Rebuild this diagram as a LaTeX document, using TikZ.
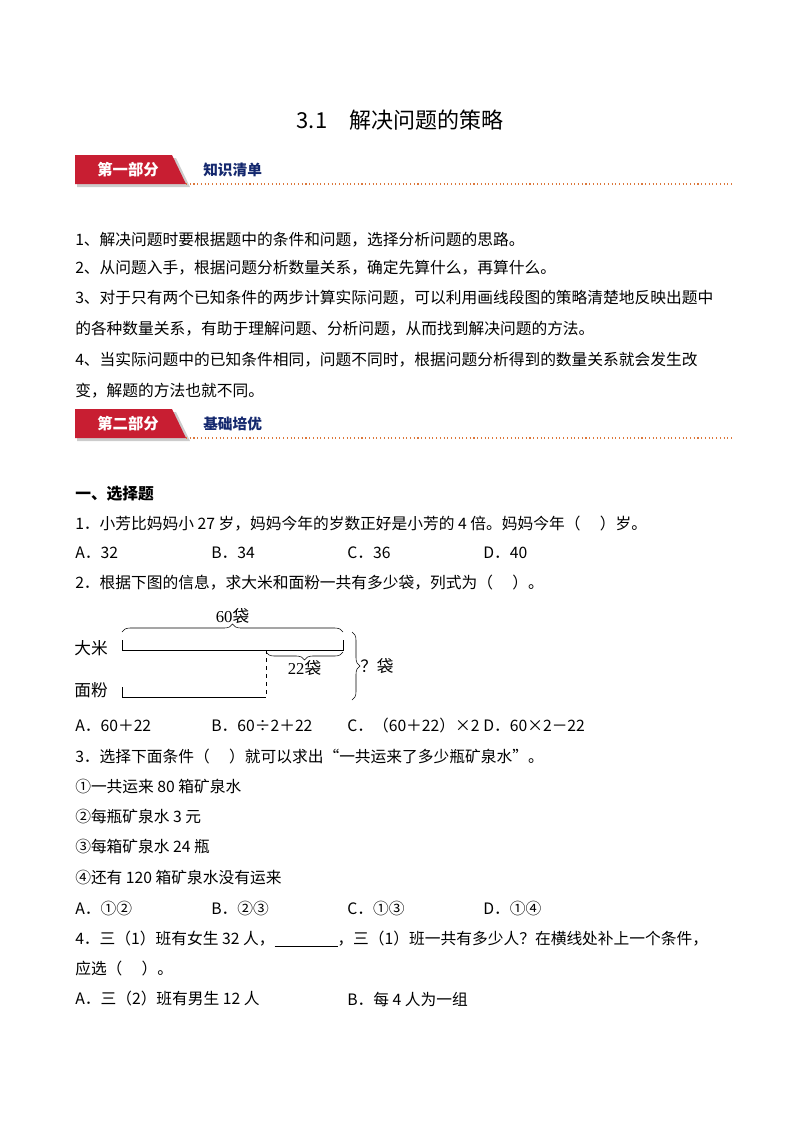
\documentclass[tikz,border=0pt]{standalone}
\usepackage{fontspec}
\setmainfont{Noto Sans CJK SC}
\newfontfamily\dfont{Liberation Serif}
\usetikzlibrary{decorations.pathreplacing}
\definecolor{bannerred}{RGB}{200,30,50}
\definecolor{navy}{RGB}{20,40,110}
\definecolor{dotor}{RGB}{220,120,60}
\begin{document}
\begin{tikzpicture}[x=0.75pt,y=-0.75pt,
  body/.style={anchor=west,inner sep=0pt,font=\fontsize{11.8}{13}\selectfont},
  btxt/.style={anchor=west,inner sep=0pt,font=\fontsize{11.8}{13}\selectfont\bfseries},
  dtext/.style={inner sep=0pt,font=\fontsize{12.5}{14}\selectfont},
  brace/.style={decorate,decoration={brace,amplitude=6pt}}]
\useasboundingbox (0,0) rectangle (800,1132);
\node[inner sep=0pt,font=\fontsize{16.5}{18}\selectfont] (title) at (400,120) {3.1\quad 解决问题的策略};
% banners
\foreach \y/\a/\b/\n in {170/第一部分/知识清单/one,424/第二部分/基础培优/two}{
  \fill[gray!40] (77,\y-12) -- (176,\y-12) -- (190,\y+17) -- (77,\y+17) -- cycle;
  \fill[bannerred] (75,\y-15) -- (172,\y-15) -- (186,\y+14) -- (75,\y+14) -- cycle;
  \node[inner sep=0pt,text=white,font=\fontsize{11.5}{13}\selectfont\bfseries] (ba\n) at (128,\y) {\a};
  \node[inner sep=0pt,anchor=west,text=navy,font=\fontsize{11}{13}\selectfont\bfseries] (bb\n) at (203,\y) {\b};
  \draw[dotor,dotted,line width=0.8pt] (186,\y+14) -- (732,\y+14);
}
\node[body] (l1) at (75,240) {1、解决问题时要根据题中的条件和问题，选择分析问题的思路。};
\node[body] (l2) at (75,268) {2、从问题入手，根据问题分析数量关系，确定先算什么，再算什么。};
\node[body] (l3) at (75,298) {3、对于只有两个已知条件的两步计算实际问题，可以利用画线段图的策略清楚地反映出题中};
\node[body] (l3b) at (75,329) {的各种数量关系，有助于理解问题、分析问题，从而找到解决问题的方法。};
\node[body] (l4) at (75,360) {4、当实际问题中的已知条件相同，问题不同时，根据问题分析得到的数量关系就会发生改};
\node[body] (l4b) at (75,391) {变，解题的方法也就不同。};
\node[btxt] (s1) at (75,494) {一、选择题};
\node[body] (q1) at (75,524) {1．小芳比妈妈小 27 岁，妈妈今年的岁数正好是小芳的 4 倍。妈妈今年（\quad\ ）岁。};
\foreach \x/\t in {75/A．32,211/B．34,347/C．36,483/D．40}{\node[body] at (\x,553) {\t};}
\node[body] (q2) at (75,583) {2．根据下图的信息，求大米和面粉一共有多少袋，列式为（\quad\ ）。};
% diagram
\coordinate (r0) at (122,650); \coordinate (r1) at (343,650);
\coordinate (f0) at (122,697); \coordinate (f1) at (266,697);
\coordinate (d0) at (266,650);
\draw (122,640) -- (r0) -- (r1) -- (343,640);
\draw (122,687) -- (f0) -- (f1);
\draw[dashed] (d0) -- (f1);
\draw[brace] (122,632) -- (343,632) node[midway,above=6pt,dtext] (lab60) {\dfont 60\rmfamily 袋};
\draw[brace] (343,652) -- (266,652) node[midway,below=6pt,dtext] (lab22) {\dfont 22\rmfamily 袋};
\draw[brace] (352,632) -- (352,700) node[midway,right=6pt,dtext] (labq) {？袋};
\node[dtext,anchor=east] (rice) at (108,648) {大米};
\node[dtext,anchor=east] (flour) at (108,690) {面粉};
\foreach \x/\t in {75/A．60＋22,211/B．60÷2＋22,347/C．（60＋22）×2,483/D．60×2－22}{\node[body] at (\x,726) {\t};}
\node[body] (q3) at (75,757) {3．选择下面条件（\quad\ ）就可以求出“一共运来了多少瓶矿泉水”。};
\node[body] at (75,787) {①一共运来 80 箱矿泉水};
\node[body] at (75,817) {②每瓶矿泉水 3 元};
\node[body] at (75,847) {③每箱矿泉水 24 瓶};
\node[body] at (75,878) {④还有 120 箱矿泉水没有运来};
\foreach \x/\t in {75/A．①②,211/B．②③,347/C．①③,483/D．①④}{\node[body] at (\x,909) {\t};}
\node[body] (q4) at (75,939) {4．三（1）班有女生 32 人，\underline{\hspace{4em}}，三（1）班一共有多少人？在横线处补上一个条件，};
\node[body] at (75,969) {应选（\quad\ ）。};
\node[body] at (75,999) {A．三（2）班有男生 12 人};
\node[body] at (347,999) {B．每 4 人为一组};
\end{tikzpicture}
\end{document}
